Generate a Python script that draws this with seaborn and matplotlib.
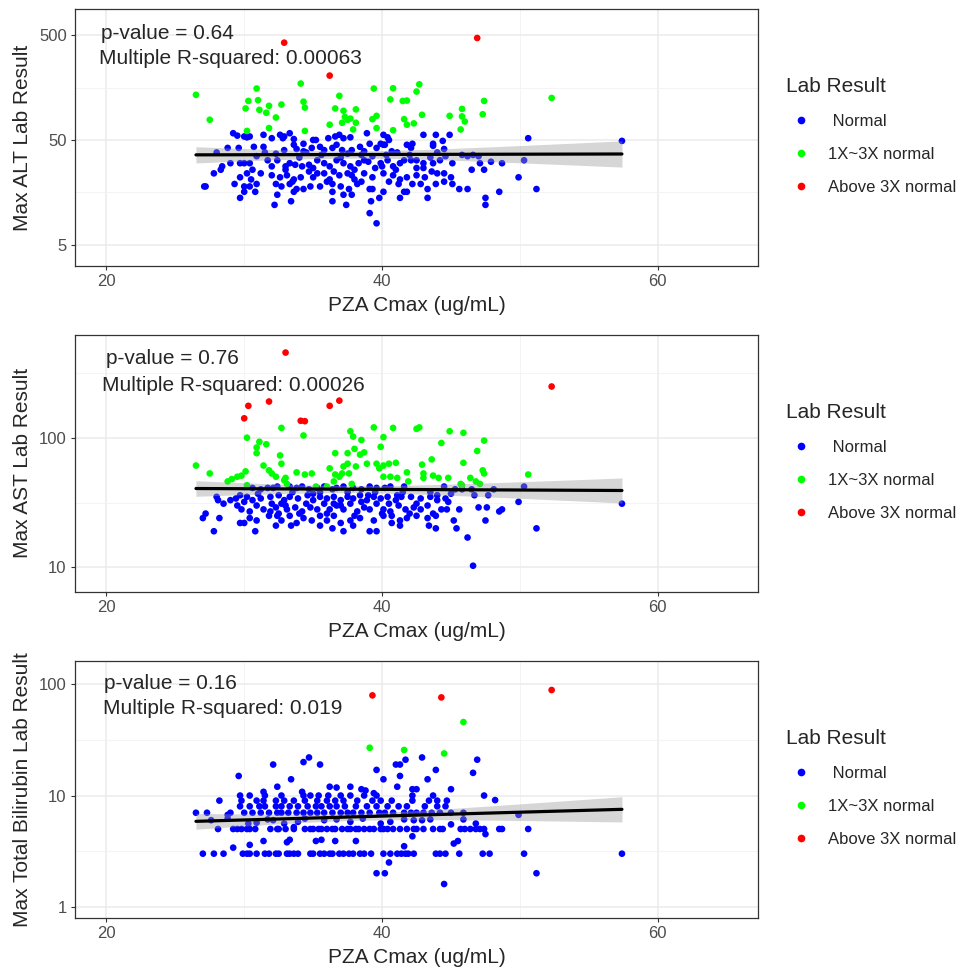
import numpy as np
import pandas as pd
import seaborn as sns
import matplotlib.pyplot as plt
from matplotlib.lines import Line2D
from matplotlib.ticker import FixedLocator, NullFormatter

LEVELS = [' Normal', '1X~3X normal', 'Above 3X normal']
PALETTE = {' Normal': '#0000FF', '1X~3X normal': '#00FF00',
           'Above 3X normal': '#FF0000'}

# (PZA Cmax, Max ALT)
alt_normal = [
    (29.2, 58), (29.5, 55), (30.0, 54), (30.4, 54), (30.2, 53), (31.4, 56),
    (32.0, 52), (32.6, 56), (32.8, 52), (32.9, 54), (33.3, 58), (33.6, 51),
    (34.3, 46), (35.0, 50), (35.2, 50), (36.1, 52), (36.6, 54), (36.9, 56),
    (37.2, 52), (37.7, 53), (38.9, 58), (39.1, 46), (39.9, 46), (40.1, 56),
    (40.4, 53), (40.5, 50), (40.2, 45), (41.8, 45), (42.2, 46), (43.0, 56),
    (43.7, 46), (43.9, 56), (44.4, 49), (44.9, 56), (50.6, 52), (57.4, 49),
    (28.8, 42), (29.6, 42), (28.0, 38), (30.7, 43), (31.4, 43), (32.3, 37),
    (32.9, 40), (33.6, 45), (33.8, 41), (34.3, 39), (34.9, 42), (35.5, 43),
    (35.8, 40), (36.4, 42), (36.7, 45), (37.1, 40), (37.8, 40), (38.4, 43),
    (38.7, 39), (39.6, 42), (40.1, 45), (40.7, 39), (41.1, 38), (42.1, 42),
    (43.7, 44), (44.5, 41), (45.8, 36), (46.6, 36), (47.0, 35),
    (28.4, 28), (29.0, 30), (29.7, 30), (30.0, 30), (30.4, 30), (30.9, 35),
    (31.7, 32), (32.4, 32), (33.0, 28), (33.3, 30), (33.7, 29), (34.2, 28),
    (34.7, 29), (35.3, 32), (35.8, 30), (36.2, 28), (36.7, 32), (37.2, 30),
    (37.7, 28), (38.3, 30), (38.7, 32), (39.3, 35), (39.9, 30), (40.4, 32),
    (40.8, 28), (41.6, 32), (42.1, 32), (42.5, 32), (43.0, 30), (43.7, 30),
    (44.2, 32), (44.6, 35), (45.1, 30), (46.2, 35), (46.5, 26), (47.1, 30),
    (47.4, 26), (47.9, 31), (48.7, 30), (50.3, 32),
    (27.8, 24), (28.3, 26), (29.7, 22), (30.2, 24), (30.6, 26), (31.2, 24),
    (32.0, 23), (32.6, 22), (33.1, 23), (33.6, 21), (34.1, 22), (34.7, 25),
    (35.0, 22), (35.8, 24), (36.2, 21), (36.9, 23), (37.5, 24), (38.0, 21),
    (38.7, 24), (39.3, 22), (40.1, 24), (40.8, 23), (41.3, 21), (41.8, 22),
    (42.5, 23), (43.1, 22), (43.6, 25), (44.0, 24), (44.5, 24), (45.0, 22),
    (49.9, 22),
    (27.1, 18), (27.2, 18), (29.3, 19), (30.0, 18), (30.4, 18), (30.9, 19),
    (32.3, 19), (32.7, 18), (33.3, 19), (33.8, 17), (34.3, 17), (34.8, 18),
    (35.5, 18), (36.4, 19), (37.0, 18), (37.6, 17), (38.2, 19), (39.1, 17),
    (40.1, 16), (41.2, 19), (41.6, 16), (42.2, 19), (42.8, 19), (43.3, 17),
    (43.9, 19), (44.5, 20), (45.1, 19), (45.6, 17), (46.2, 17), (48.5, 16),
    (51.2, 17),
    (29.7, 14), (30.0, 16), (30.8, 16), (32.4, 15), (33.6, 16), (36.4, 16),
    (37.2, 15), (37.8, 15), (39.3, 17), (39.8, 14), (41.3, 14), (41.8, 16),
    (43.3, 14), (47.5, 14), (47.5, 12),
    (32.2, 12), (33.4, 13), (36.4, 13), (37.4, 12), (39.2, 13), (39.1, 10),
    (39.6, 8),
    (31.5, 38), (33.0, 26), (34.0, 34), (35.0, 27), (35.6, 36), (36.5, 25),
    (37.0, 34), (38.0, 26), (38.5, 36), (39.5, 27), (40.3, 36), (41.0, 26),
    (42.0, 36), (43.0, 27), (44.0, 38), (32.0, 28), (33.5, 20), (36.0, 20),
    (38.5, 20), (40.5, 20), (42.5, 27), (30.5, 21), (34.5, 38), (37.5, 37),
    (39.0, 31), (41.3, 30), (35.3, 24), (37.8, 23), (40.0, 28), (43.5, 34),
]
alt_mild = [
    (26.5, 135), (27.5, 78), (30.3, 118), (30.1, 100), (30.2, 61),
    (30.9, 155), (31.0, 120), (31.1, 97), (31.6, 91), (31.8, 106),
    (31.8, 65), (32.3, 82), (32.7, 109), (34.1, 173), (34.3, 116),
    (34.4, 102), (34.4, 61), (36.2, 70), (36.6, 100), (36.9, 132),
    (37.2, 95), (37.1, 73), (37.3, 83), (37.5, 78), (37.7, 80), (37.9, 63),
    (38.1, 73), (38.1, 98), (39.3, 79), (39.4, 155), (39.6, 85), (39.6, 65),
    (40.6, 122), (40.8, 156), (40.8, 62), (41.5, 118), (41.8, 119),
    (41.6, 79), (41.8, 70), (42.3, 72), (42.5, 145), (42.7, 170),
    (42.9, 87), (44.9, 85), (45.8, 99), (45.8, 84), (46.0, 75), (45.7, 63),
    (47.3, 88), (47.4, 118), (52.3, 126),
]
alt_high = [(32.9, 425), (36.2, 206), (46.9, 471)]

# (PZA Cmax, Max AST)
ast_normal = [
    (30.6, 41), (31.2, 40), (31.7, 41), (32.1, 41), (32.4, 42), (33.3, 42),
    (33.8, 41), (34.2, 42), (34.7, 40), (35.3, 41), (35.8, 42), (36.4, 40),
    (36.7, 41), (37.2, 42), (37.9, 41), (38.5, 40), (39.1, 42), (39.6, 41),
    (40.2, 41), (40.6, 42), (41.6, 42), (44.5, 42), (45.0, 37), (45.3, 40),
    (45.8, 40), (46.5, 40), (48.1, 40), (50.3, 42),
    (28.0, 35), (28.1, 33), (28.5, 31), (29.0, 33), (29.4, 34), (29.7, 36),
    (30.2, 35), (30.6, 33), (31.2, 34), (31.9, 35), (32.5, 36), (32.9, 33),
    (33.3, 35), (33.9, 34), (34.6, 36), (35.0, 33), (35.5, 35), (36.0, 34),
    (36.5, 35), (37.0, 33), (37.5, 35), (37.9, 34), (38.4, 36), (38.9, 33),
    (39.4, 35), (39.9, 34), (40.4, 35), (41.1, 36), (41.4, 35), (42.1, 35),
    (42.8, 34), (43.5, 35), (44.0, 33), (44.6, 34), (44.8, 32), (46.7, 36),
    (47.7, 36), (49.9, 32), (57.4, 31),
    (29.5, 30), (29.8, 28), (30.4, 27), (30.9, 30), (31.4, 28), (31.9, 27),
    (32.3, 29), (32.7, 31), (33.1, 28), (33.7, 29), (34.2, 27), (34.8, 29),
    (35.3, 28), (35.8, 31), (36.2, 28), (36.7, 30), (37.2, 28), (37.7, 31),
    (38.2, 27), (38.7, 29), (39.1, 28), (39.6, 31), (40.1, 28), (40.6, 27),
    (41.2, 30), (41.7, 28), (42.3, 29), (42.8, 28), (43.3, 30), (43.7, 26),
    (44.3, 28), (44.7, 28), (45.6, 28), (47.0, 29), (47.6, 29), (48.5, 27),
    (48.7, 28),
    (27.2, 26), (27.0, 24), (28.2, 24), (29.7, 22), (30.0, 22), (30.4, 24),
    (30.9, 23), (31.8, 25), (32.4, 25), (32.7, 23), (33.3, 25), (33.8, 22),
    (34.3, 24), (34.9, 23), (35.5, 25), (36.0, 23), (36.5, 25), (37.0, 22),
    (37.7, 23), (38.4, 24), (39.4, 23), (40.1, 25), (40.7, 25), (41.3, 23),
    (41.8, 24), (42.5, 25), (43.3, 24), (43.9, 25), (45.2, 23), (47.5, 23),
    (27.8, 19), (30.8, 19), (32.3, 21), (33.4, 21), (35.5, 21), (36.4, 20),
    (37.2, 19), (37.9, 21), (39.1, 19), (39.6, 19), (40.7, 22), (41.3, 21),
    (43.4, 21), (43.9, 20), (45.4, 20), (46.2, 17), (51.2, 20), (46.6, 10.3),
    (31.0, 37), (32.0, 31), (33.5, 38), (34.5, 31), (35.5, 38), (36.5, 31),
    (37.5, 38), (38.5, 32), (39.5, 38), (40.5, 31), (41.5, 38), (42.5, 31),
    (43.5, 38), (32.5, 26), (34.0, 26), (36.0, 26), (38.0, 25), (40.0, 26),
    (42.0, 26), (35.0, 37), (37.0, 30), (39.0, 36), (33.0, 30), (41.0, 33),
    (44.0, 36), (30.0, 32),
]
ast_mild = [
    (26.5, 61), (27.5, 53), (28.8, 46), (29.1, 48), (29.5, 50), (29.8, 51),
    (30.1, 55), (30.2, 43), (30.2, 100), (30.9, 84), (31.1, 93), (30.9, 76),
    (31.6, 89), (31.4, 61), (31.8, 56), (32.0, 53), (32.3, 50), (32.6, 73),
    (32.7, 63), (32.7, 119), (32.9, 47), (33.0, 49), (33.1, 44), (33.8, 54),
    (34.3, 104), (34.4, 52), (34.9, 53), (35.2, 42), (36.0, 42), (36.2, 58),
    (36.5, 46), (36.6, 76), (36.6, 52), (36.9, 50), (37.1, 53), (37.2, 60),
    (37.5, 76), (37.5, 63), (37.6, 53), (37.7, 112), (37.9, 102), (38.0, 82),
    (38.1, 60), (37.8, 44), (38.4, 74), (38.5, 96), (38.7, 77), (38.9, 63),
    (39.4, 120), (39.6, 63), (39.8, 58), (39.9, 85), (40.1, 101), (40.1, 50),
    (40.1, 61), (40.5, 63), (40.6, 50), (40.8, 119), (41.0, 64), (41.1, 49),
    (41.8, 54), (41.9, 46), (42.5, 117), (42.7, 120), (42.9, 62), (43.0, 53),
    (43.0, 49), (43.6, 68), (43.7, 51), (44.1, 49), (44.3, 91), (44.8, 49),
    (44.9, 112), (45.9, 109), (45.9, 64), (45.7, 44), (45.8, 43), (46.4, 49),
    (46.8, 46), (46.9, 79), (47.1, 44), (47.3, 56), (47.4, 53), (47.4, 95),
    (50.6, 52),
]
ast_high = [(33.0, 453), (30.3, 176), (30.0, 141), (31.8, 190), (34.1, 135),
            (34.4, 134), (36.2, 176), (36.9, 193), (52.3, 248)]

# (PZA Cmax, Max Total Bilirubin)
bili_normal = [
    (29.6, 15), (32.1, 19), (34.3, 20), (34.7, 22), (35.5, 19), (33.4, 14),
    (39.6, 17), (40.1, 14), (41.0, 19), (41.3, 19), (41.7, 21), (41.3, 15),
    (42.9, 22), (43.3, 14), (43.9, 17), (41.1, 12), (45.0, 11.4), (46.6, 16),
    (46.9, 21), (47.4, 10), (48.2, 9.1), (49.9, 6.7), (50.6, 5), (50.3, 3),
    (51.2, 2), (57.4, 3), (44.5, 1.6), (39.6, 2), (40.2, 2), (40.5, 2.5),
    (27.0, 3), (27.8, 3), (28.5, 3), (29.9, 3), (30.2, 3), (30.4, 3),
    (30.9, 3), (31.5, 3), (31.8, 3), (32.3, 3), (32.5, 3), (33.1, 3),
    (33.3, 3), (33.6, 3), (33.9, 3), (34.8, 3), (35.0, 3), (35.5, 3),
    (35.8, 3), (36.2, 3), (36.4, 3), (36.9, 3), (37.2, 3), (37.6, 3),
    (37.9, 3), (38.4, 3), (38.7, 3), (39.2, 3), (40.1, 3), (40.6, 3),
    (41.1, 3), (41.4, 3), (41.7, 3), (41.9, 3), (42.3, 3), (43.9, 3),
    (44.2, 3), (44.6, 3), (45.6, 3), (47.3, 3), (47.8, 3),
    (28.1, 5), (29.2, 5), (29.5, 5), (29.8, 5), (30.2, 5), (30.4, 5),
    (30.8, 5), (31.9, 5), (32.4, 5), (32.5, 5), (33.0, 5), (33.6, 5),
    (34.4, 5), (34.8, 5), (35.0, 5), (35.4, 5), (35.6, 5), (36.0, 5),
    (36.4, 5), (36.6, 5), (37.1, 5), (37.5, 5), (37.7, 5), (38.1, 5),
    (38.3, 5), (38.7, 5), (39.1, 5), (39.4, 5), (39.9, 5), (40.1, 5),
    (40.4, 5), (40.8, 5), (41.3, 5), (41.8, 5), (42.3, 5), (42.5, 5),
    (43.0, 5), (43.7, 5), (44.2, 5), (44.4, 5), (45.7, 5), (46.0, 5),
    (46.4, 5), (46.8, 5), (47.1, 5), (47.4, 5), (48.5, 5), (48.7, 5),
    (31.4, 3.9), (33.1, 3.8), (33.3, 4.0), (35.2, 3.9), (35.6, 4.0),
    (36.6, 3.9), (38.1, 3.9), (30.4, 3.6), (29.2, 3.4), (41.6, 3.5),
    (42.2, 4.3), (45.2, 3.7), (45.5, 3.9), (47.5, 4.5),
    (27.6, 6.0), (28.8, 6.2), (30.3, 5.6), (30.9, 5.7), (31.7, 6.1),
    (32.1, 6.0), (32.9, 5.6), (33.6, 5.2), (33.9, 5.8), (34.4, 6.2),
    (35.8, 6.0), (36.7, 6.1), (37.7, 5.8), (38.6, 6.2), (39.9, 5.6),
    (40.6, 5.8), (41.6, 6.1), (42.3, 6.0), (42.9, 6.0), (43.5, 6.1),
    (45.0, 5.5), (45.9, 6.1), (46.8, 5.6),
    (26.5, 7), (27.3, 7), (29.0, 7), (30.0, 7), (30.6, 7), (31.2, 7),
    (31.8, 7), (32.4, 7), (32.7, 7), (33.2, 7), (33.8, 7), (34.3, 7),
    (34.8, 7), (35.3, 7), (35.8, 7), (36.4, 7), (37.0, 7), (37.5, 7),
    (37.9, 7), (38.5, 7), (39.1, 7), (39.8, 7), (40.2, 7), (40.8, 7),
    (41.6, 7), (42.1, 7), (42.5, 7), (43.0, 7), (43.6, 7), (44.2, 7),
    (45.0, 7), (45.9, 7),
    (28.8, 6.7), (29.7, 8), (30.4, 8), (31.1, 8), (31.5, 8), (32.3, 8),
    (32.7, 8), (33.3, 8), (33.9, 8), (34.6, 8), (35.2, 8), (35.6, 8),
    (36.2, 8), (36.7, 8), (37.3, 8), (38.1, 8), (38.9, 8), (39.6, 8),
    (40.4, 8), (41.2, 8), (41.8, 8), (43.1, 8), (44.0, 8), (44.6, 8),
    (28.2, 9), (29.8, 9), (30.9, 9), (31.4, 9), (32.3, 9), (32.9, 9),
    (33.6, 9), (34.4, 9), (35.3, 9), (36.0, 9), (36.6, 9), (37.2, 9),
    (38.2, 9), (39.3, 9), (39.9, 9), (40.7, 9), (42.2, 9), (43.4, 9),
    (44.0, 9), (44.7, 9),
    (29.7, 10), (30.4, 10), (31.5, 10), (32.7, 10), (34.3, 10), (34.8, 10),
    (35.4, 10), (36.1, 10), (37.0, 10), (37.7, 10), (38.7, 10), (39.6, 10),
    (42.2, 10), (43.7, 10),
    (31.4, 10.8), (32.4, 12), (34.2, 10.8), (36.2, 12), (36.7, 11.8),
    (37.7, 12), (38.5, 11.4), (38.8, 11.1), (39.4, 10.5), (42.2, 11.4),
    (42.5, 11.4),
]
bili_mild = [(39.1, 26.9), (41.6, 25.7), (44.5, 23.9), (45.9, 45.8)]
bili_high = [(39.3, 79.6), (44.3, 76.3), (52.3, 88.9)]


def make_frame(normal, mild, high):
    rows = []
    for level, pts in zip(LEVELS, [normal, mild, high]):
        for x, y in pts:
            rows.append({'cmax': x, 'value': y, 'result': level})
    return pd.DataFrame(rows)


def fit_band(x, y, grid):
    """
    Linear fit of log10(y) on x with a 95% confidence band.
    """
    ly = np.log10(y)
    slope, icpt = np.polyfit(x, ly, 1)
    resid = ly - (slope * x + icpt)
    n = len(x)
    s = np.sqrt(np.sum(resid ** 2) / (n - 2))
    sxx = np.sum((x - x.mean()) ** 2)
    fit = slope * grid + icpt
    se = s * np.sqrt(1 / n + (grid - x.mean()) ** 2 / sxx)
    return 10 ** fit, 10 ** (fit - 1.97 * se), 10 ** (fit + 1.97 * se)


def draw_panel(fig, rect, df, ylabel, yticks, ylim, stats, text_xy, top_px):
    ax = fig.add_axes(rect)
    sns.scatterplot(data=df, x='cmax', y='value', hue='result',
                    hue_order=LEVELS, palette=PALETTE, s=23, linewidth=0,
                    legend=False, ax=ax, zorder=2)
    ax.set_yscale('log')
    x = df['cmax'].to_numpy()
    y = df['value'].to_numpy()
    grid = np.linspace(x.min(), x.max(), 200)
    mid, lo, hi = fit_band(x, y, grid)
    ax.fill_between(grid, lo, hi, color='#999999', alpha=0.4, linewidth=0,
                    zorder=3)
    ax.plot(grid, mid, color='black', lw=2.3, zorder=4)

    ax.set_xlim(17.75, 67.25)
    ax.set_ylim(*ylim)
    ax.xaxis.set_major_locator(FixedLocator([20, 40, 60]))
    ax.xaxis.set_minor_locator(FixedLocator([30, 50]))
    ax.yaxis.set_major_locator(FixedLocator(yticks))
    ax.yaxis.set_minor_locator(FixedLocator(
        [np.sqrt(a * b) for a, b in zip(yticks[:-1], yticks[1:])]
        + [yticks[-1] * np.sqrt(10)]))
    ax.yaxis.set_minor_formatter(NullFormatter())
    ax.set_yticklabels([f'{t:g}' for t in yticks])
    ax.grid(which='major', color='#EBEBEB', lw=1.1)
    ax.grid(which='minor', color='#F2F2F2', lw=0.6)
    ax.set_axisbelow(True)
    ax.tick_params(which='major', length=2.75, width=0.8, color='#333333',
                   labelsize=12, labelcolor='#4D4D4D', pad=3.5,
                   left=True, bottom=True)
    ax.tick_params(which='minor', length=0)
    for sp in ax.spines.values():
        sp.set_color('#333333')
        sp.set_linewidth(0.9)
    ax.set_xlabel('PZA Cmax (ug/mL)', fontsize=15, labelpad=5)
    ax.set_ylabel(ylabel, fontsize=15, labelpad=5)

    (px, py), (mx, my) = text_xy
    ax.text(px, py, stats[0], transform=ax.transAxes, fontsize=15,
            va='center', ha='left')
    ax.text(mx, my, stats[1], transform=ax.transAxes, fontsize=15,
            va='center', ha='left')

    handles = [Line2D([], [], marker='o', ls='', color=PALETTE[k],
                      markersize=4.5) for k in LEVELS]
    ax.legend(handles, LEVELS, title='Lab Result', loc='upper left',
              bbox_to_anchor=(786 / 967, 1 - (top_px + 68) / 969),
              bbox_transform=fig.transFigure, frameon=False, fontsize=12,
              title_fontsize=15, alignment='left', borderpad=0,
              handlelength=1.8, handletextpad=0.7, labelspacing=1.08,
              borderaxespad=0)
    return ax


def main():
    sns.set_theme(style='whitegrid')
    plt.rcParams['font.family'] = ['Liberation Sans', 'DejaVu Sans']

    fig = plt.figure(figsize=(9.67, 9.69), dpi=100)
    left, width = 0.0779, 0.7057

    draw_panel(fig, [left, 0.7258, width, 0.2646],
               make_frame(alt_normal, alt_mild, alt_high),
               'Max ALT Lab Result', [5, 50, 500], (3.15, 885),
               ['p-value = 0.64', 'Multiple R-squared: 0.00063'],
               [(0.038, 0.905), (0.035, 0.808)], 9.3)
    draw_panel(fig, [left, 0.3894, width, 0.2649],
               make_frame(ast_normal, ast_mild, ast_high),
               'Max AST Lab Result', [10, 100], (6.5, 619),
               ['p-value = 0.76', 'Multiple R-squared: 0.00026'],
               [(0.045, 0.908), (0.039, 0.803)], 335)
    draw_panel(fig, [left, 0.0529, width, 0.2649],
               make_frame(bili_normal, bili_mild, bili_high),
               'Max Total Bilirubin Lab Result', [1, 10, 100], (0.796, 162),
               ['p-value = 0.16', 'Multiple R-squared: 0.019'],
               [(0.042, 0.914), (0.041, 0.817)], 661)

    fig.savefig('out.png', dpi=100)


if __name__ == '__main__':
    main()
